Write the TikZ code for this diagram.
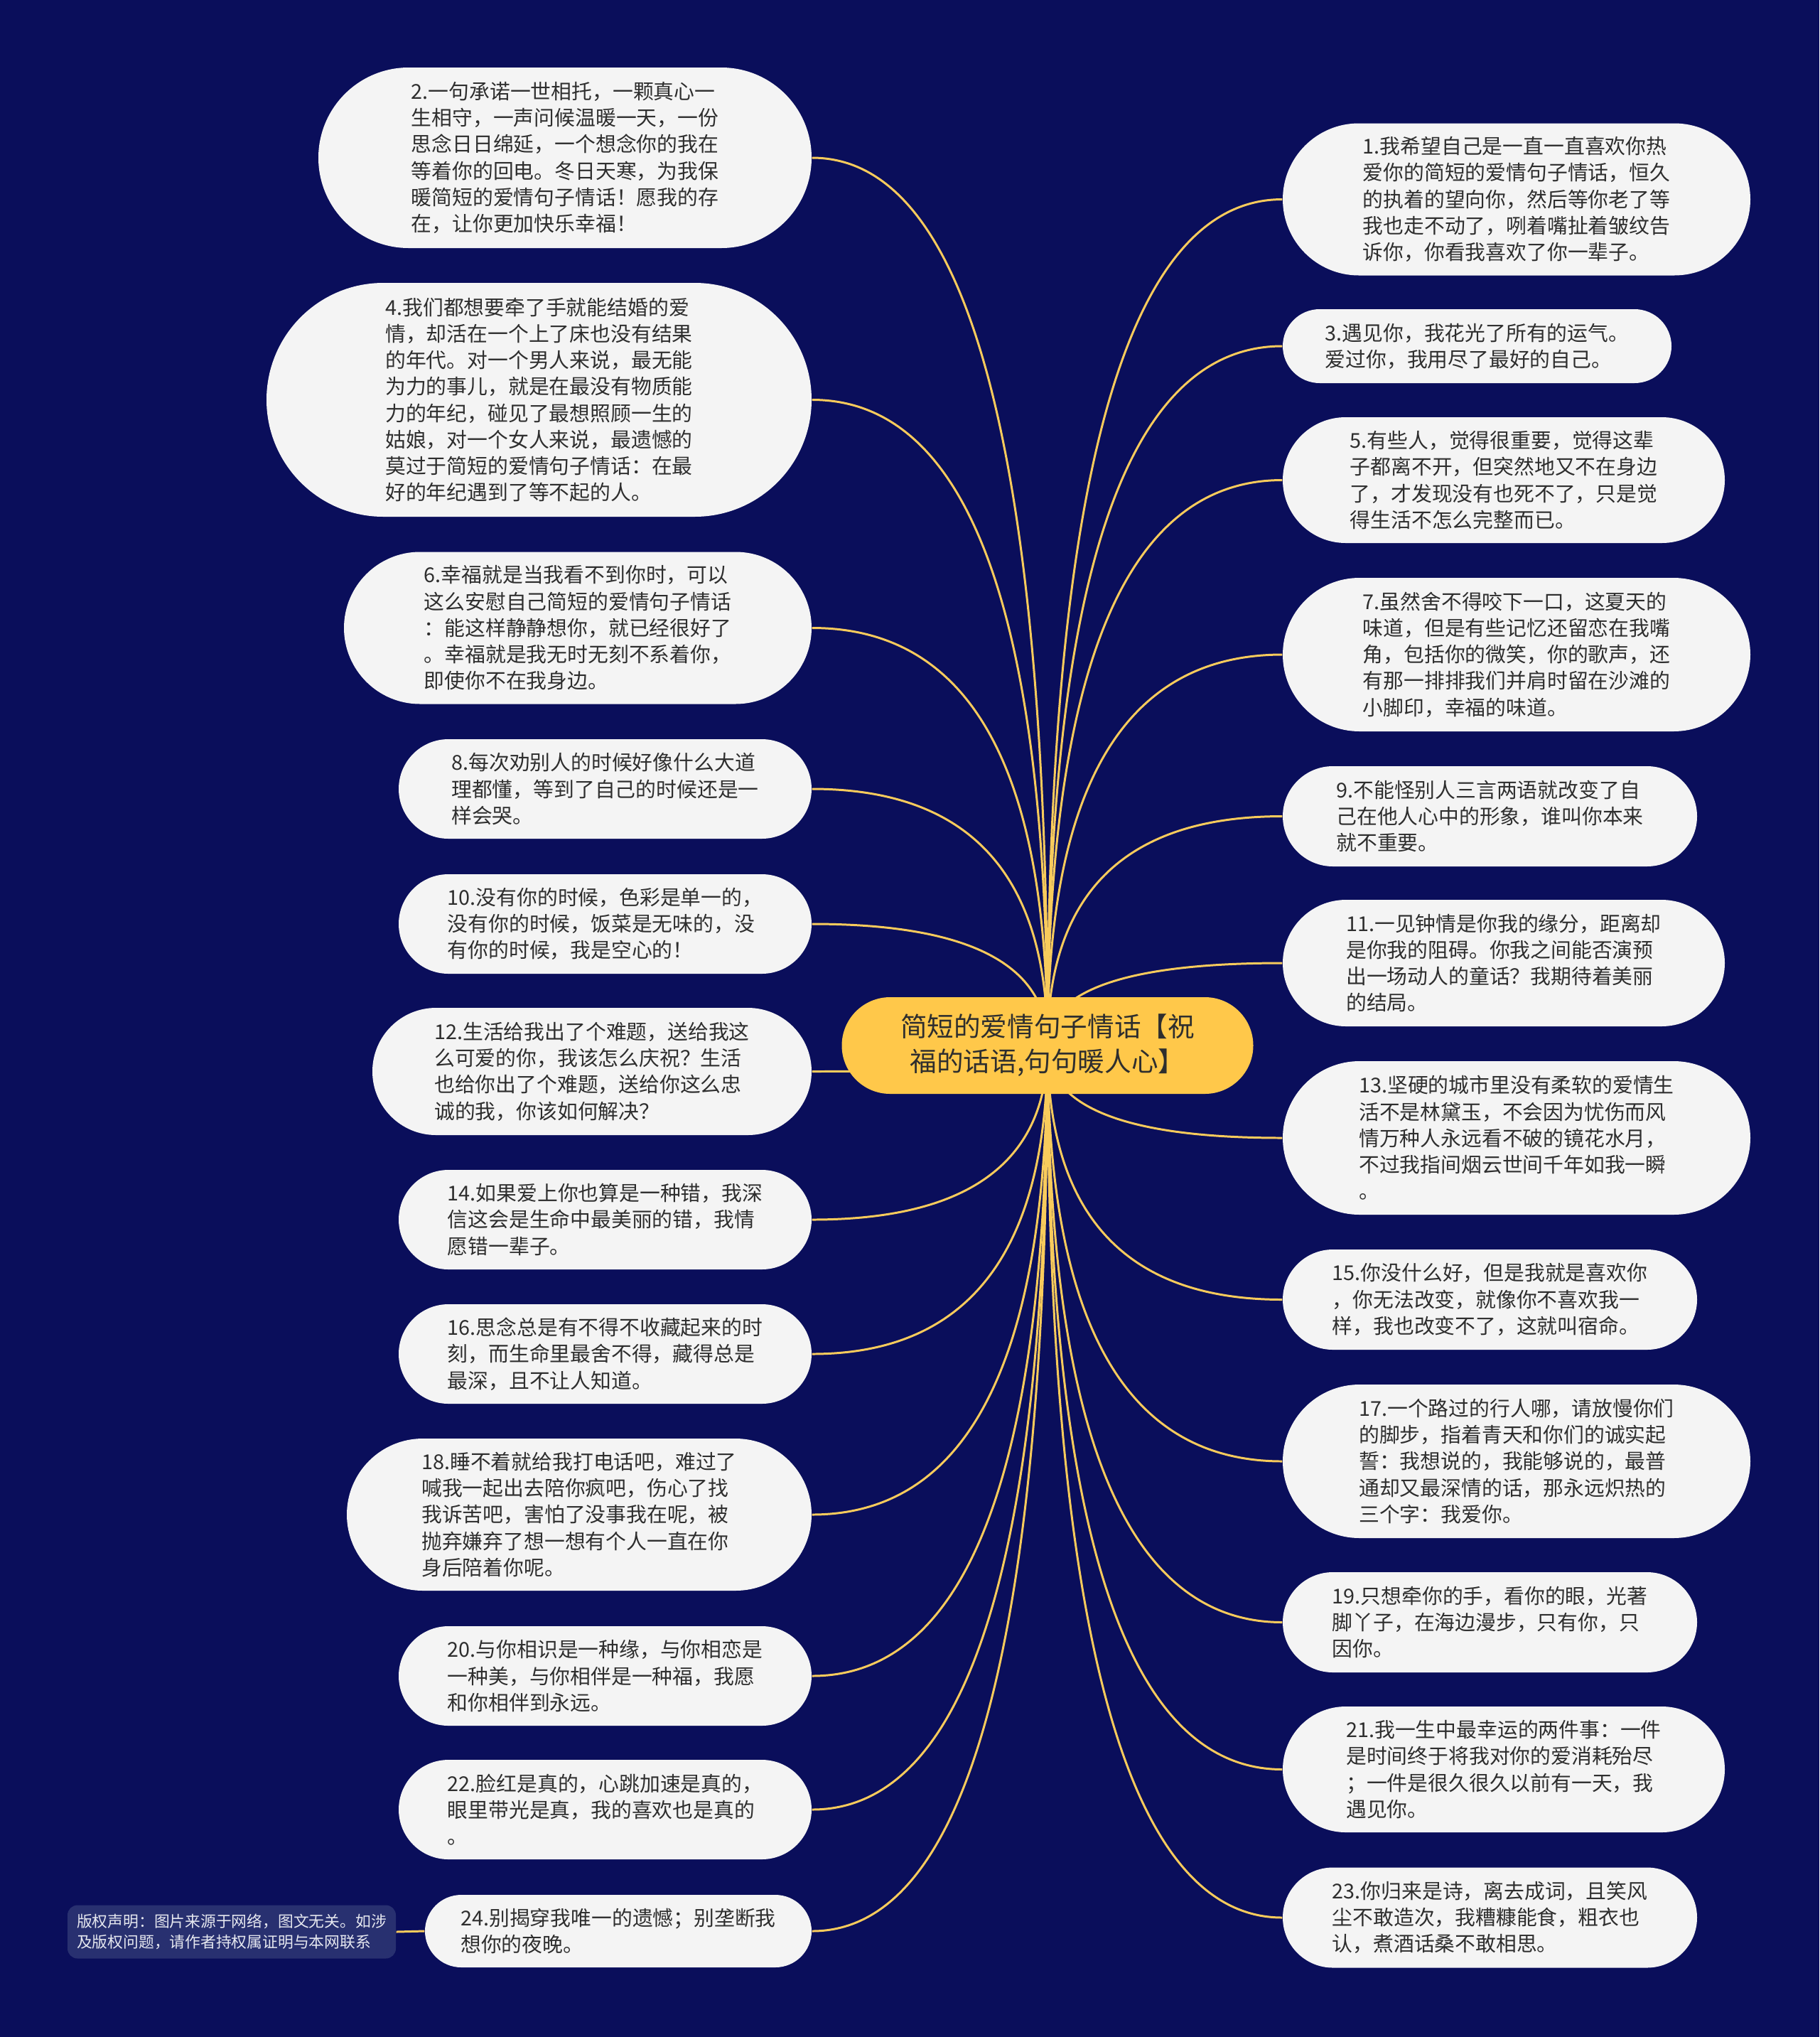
\documentclass[tikz,border=0pt]{standalone}
\usepackage{fontspec}
\setmainfont{Noto Sans CJK SC}
\usetikzlibrary{shapes.misc,calc}
\definecolor{bgcol}{HTML}{0A0E5B}
\definecolor{leafcol}{HTML}{F4F4F4}
\definecolor{hubcol}{HTML}{FFC84A}
\definecolor{linkcol}{HTML}{F8CB5C}
\definecolor{txtcol}{HTML}{2E2E2E}
\definecolor{notecol}{HTML}{283070}
\definecolor{notetxt}{HTML}{E6E8F0}
\pgfdeclarelayer{bg}\pgfdeclarelayer{links}\pgfsetlayers{bg,links,main}
\newcommand\mmlink[2]{\draw[link] (#1) .. controls ($(#1)!0.667!(#1 |- #2)$) and ($(#2)!0.667!(#1 |- #2)$) .. (#2);}
\begin{document}
\begin{tikzpicture}[x=1cm,y=-1cm,
 leaf/.style={rounded rectangle, fill=leafcol, text=txtcol, inner sep=0pt, align=left, font=\fontsize{8.2pt}{10.6pt}\selectfont},
 hub/.style={rounded rectangle, fill=hubcol, text=txtcol, inner sep=0pt, align=center, font=\fontsize{10.7pt}{14pt}\selectfont},
 link/.style={draw=linkcol, line width=0.85pt},
 note/.style={fill=notecol, rounded corners=4pt, text=notetxt, inner sep=0pt, align=left, font=\fontsize{6.2pt}{8.2pt}\selectfont}]
\useasboundingbox (0,0) rectangle (25.6,28.66);
\begin{pgfonlayer}{bg}
\fill[bgcol] (0,0) rectangle (25.6,28.66);
\end{pgfonlayer}

\node[hub, minimum width=5.79cm, minimum height=1.36cm] (c) at (14.74,14.71) {简短的爱情句子情话【祝\\福的话语,句句暖人心】};

% left side
\node[leaf, minimum width=6.94cm, minimum height=2.54cm] (n2) at (7.95,2.22) {2.一句承诺一世相托，一颗真心一\\生相守，一声问候温暖一天，一份\\思念日日绵延，一个想念你的我在\\等着你的回电。冬日天寒，为我保\\暖简短的爱情句子情话！愿我的存\\在，让你更加快乐幸福！};
\node[leaf, minimum width=7.67cm, minimum height=3.29cm] (n4) at (7.585,5.625) {4.我们都想要牵了手就能结婚的爱\\情，却活在一个上了床也没有结果\\的年代。对一个男人来说，最无能\\为力的事儿，就是在最没有物质能\\力的年纪，碰见了最想照顾一生的\\姑娘，对一个女人来说，最遗憾的\\莫过于简短的爱情句子情话：在最\\好的年纪遇到了等不起的人。};
\node[leaf, minimum width=6.58cm, minimum height=2.14cm] (n6) at (8.13,8.835) {6.幸福就是当我看不到你时，可以\\这么安慰自己简短的爱情句子情话\\：能这样静静想你，就已经很好了\\。幸福就是我无时无刻不系着你，\\即使你不在我身边。};
\node[leaf, minimum width=5.81cm, minimum height=1.40cm] (n8) at (8.515,11.10) {8.每次劝别人的时候好像什么大道\\理都懂，等到了自己的时候还是一\\样会哭。};
\node[leaf, minimum width=5.81cm, minimum height=1.40cm] (n10) at (8.515,13.00) {10.没有你的时候，色彩是单一的，\\没有你的时候，饭菜是无味的，没\\有你的时候，我是空心的！};
\node[leaf, minimum width=6.18cm, minimum height=1.79cm] (n12) at (8.33,15.075) {12.生活给我出了个难题，送给我这\\么可爱的你，我该怎么庆祝？生活\\也给你出了个难题，送给你这么忠\\诚的我，你该如何解决？};
\node[leaf, minimum width=5.81cm, minimum height=1.40cm] (n14) at (8.515,17.16) {14.如果爱上你也算是一种错，我深\\信这会是生命中最美丽的错，我情\\愿错一辈子。};
\node[leaf, minimum width=5.81cm, minimum height=1.40cm] (n16) at (8.515,19.05) {16.思念总是有不得不收藏起来的时\\刻，而生命里最舍不得，藏得总是\\最深，且不让人知道。};
\node[leaf, minimum width=6.54cm, minimum height=2.14cm] (n18) at (8.15,21.31) {18.睡不着就给我打电话吧，难过了\\喊我一起出去陪你疯吧，伤心了找\\我诉苦吧，害怕了没事我在呢，被\\抛弃嫌弃了想一想有个人一直在你\\身后陪着你呢。};
\node[leaf, minimum width=5.81cm, minimum height=1.40cm] (n20) at (8.515,23.58) {20.与你相识是一种缘，与你相恋是\\一种美，与你相伴是一种福，我愿\\和你相伴到永远。};
\node[leaf, minimum width=5.81cm, minimum height=1.40cm] (n22) at (8.515,25.46) {22.脸红是真的，心跳加速是真的，\\眼里带光是真，我的喜欢也是真的\\。};
\node[leaf, minimum width=5.44cm, minimum height=1.02cm] (n24) at (8.70,27.17) {24.别揭穿我唯一的遗憾；别垄断我\\想你的夜晚。};
\node[note, minimum width=4.62cm, minimum height=0.75cm] (cp) at (3.26,27.18) {版权声明：图片来源于网络，图文无关。如涉\\及版权问题，请作者持权属证明与本网联系};

% right side
\node[leaf, minimum width=6.58cm, minimum height=2.14cm] (n1) at (21.34,2.805) {1.我希望自己是一直一直喜欢你热\\爱你的简短的爱情句子情话，恒久\\的执着的望向你，然后等你老了等\\我也走不动了，咧着嘴扯着皱纹告\\诉你，你看我喜欢了你一辈子。};
\node[leaf, minimum width=5.47cm, minimum height=1.04cm] (n3) at (20.785,4.87) {3.遇见你，我花光了所有的运气。\\爱过你，我用尽了最好的自己。};
\node[leaf, minimum width=6.22cm, minimum height=1.77cm] (n5) at (21.16,6.755) {5.有些人，觉得很重要，觉得这辈\\子都离不开，但突然地又不在身边\\了，才发现没有也死不了，只是觉\\得生活不怎么完整而已。};
\node[leaf, minimum width=6.58cm, minimum height=2.16cm] (n7) at (21.34,9.21) {7.虽然舍不得咬下一口，这夏天的\\味道，但是有些记忆还留恋在我嘴\\角，包括你的微笑，你的歌声，还\\有那一排排我们并肩时留在沙滩的\\小脚印，幸福的味道。};
\node[leaf, minimum width=5.83cm, minimum height=1.41cm] (n9) at (20.965,11.485) {9.不能怪别人三言两语就改变了自\\己在他人心中的形象，谁叫你本来\\就不重要。};
\node[leaf, minimum width=6.22cm, minimum height=1.78cm] (n11) at (21.16,13.55) {11.一见钟情是你我的缘分，距离却\\是你我的阻碍。你我之间能否演预\\出一场动人的童话？我期待着美丽\\的结局。};
\node[leaf, minimum width=6.58cm, minimum height=2.16cm] (n13) at (21.34,16.01) {13.坚硬的城市里没有柔软的爱情生\\活不是林黛玉，不会因为忧伤而风\\情万种人永远看不破的镜花水月，\\不过我指间烟云世间千年如我一瞬\\。};
\node[leaf, minimum width=5.83cm, minimum height=1.41cm] (n15) at (20.965,18.285) {15.你没什么好，但是我就是喜欢你\\，你无法改变，就像你不喜欢我一\\样，我也改变不了，这就叫宿命。};
\node[leaf, minimum width=6.58cm, minimum height=2.16cm] (n17) at (21.34,20.56) {17.一个路过的行人哪，请放慢你们\\的脚步，指着青天和你们的诚实起\\誓：我想说的，我能够说的，最普\\通却又最深情的话，那永远炽热的\\三个字：我爱你。};
\node[leaf, minimum width=5.83cm, minimum height=1.41cm] (n19) at (20.965,22.825) {19.只想牵你的手，看你的眼，光著\\脚丫子，在海边漫步，只有你，只\\因你。};
\node[leaf, minimum width=6.22cm, minimum height=1.77cm] (n21) at (21.16,24.895) {21.我一生中最幸运的两件事：一件\\是时间终于将我对你的爱消耗殆尽\\；一件是很久很久以前有一天，我\\遇见你。};
\node[leaf, minimum width=5.83cm, minimum height=1.41cm] (n23) at (20.965,26.98) {23.你归来是诗，离去成词，且笑风\\尘不敢造次，我糟糠能食，粗衣也\\认，煮酒话桑不敢相思。};

\begin{pgfonlayer}{links}
\foreach \k in {2,4,6,8,10,12,14,16,18,20,22,24}{\mmlink{c.center}{n\k.east}}
\foreach \k in {1,3,5,7,9,11,13,15,17,19,21,23}{\mmlink{c.center}{n\k.west}}
\draw[link] (cp.east) -- (n24.west);
\end{pgfonlayer}
\end{tikzpicture}
\end{document}
